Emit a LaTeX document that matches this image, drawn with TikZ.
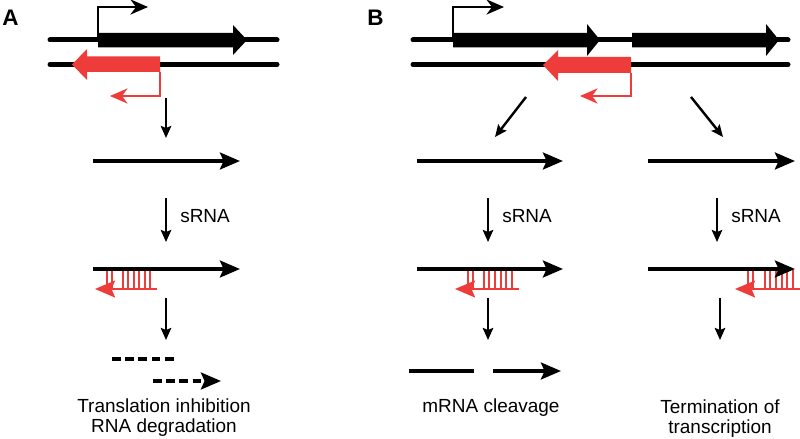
\documentclass[tikz,border=0pt]{standalone}
\usepackage{fontspec}
\setmainfont{Liberation Sans}
\usetikzlibrary{arrows.meta}
\definecolor{AntiRed}{RGB}{238,60,58}
\tikzset{
  dna/.style={line width=0.125cm,line cap=round},
  gene/.style={fill=black},
  asgene/.style={fill=AntiRed},
  tss/.style={line width=0.05cm,-{Stealth[length=0.44cm,width=0.38cm,inset=0.14cm]}},
  rna/.style={line width=0.095cm,-{Stealth[length=0.5cm,width=0.42cm,inset=0.09cm]}},
  srna/.style={rna,AntiRed,line width=0.07cm},
  pair/.style={AntiRed,line width=0.03cm},
  flow/.style={line width=0.06cm,-{Stealth[length=0.3cm,width=0.26cm,inset=0.05cm]}},
  cut/.style={line width=0.095cm},
  txt/.style={font=\fontsize{13.5}{14.2}\selectfont,inner sep=0pt,align=center},
  panel/.style={font=\fontsize{16}{16}\selectfont\bfseries,inner sep=0pt}
}

\begin{document}
\begin{tikzpicture}[x=0.025cm,y=-0.025cm]
  \useasboundingbox (0,0) rectangle (800,439);

  % panel A
  \node[panel,anchor=base west] (labA) at (2,26) {A};
  \draw[dna] (50,40) -- (277,40);
  \draw[dna] (50,64.5) -- (277,64.5);
  \fill[gene] (98,33) -- (233,33) -- (233,25) -- (247,40) -- (233,55)
    -- (233,47.5) -- (98,47.5) -- cycle;
  \draw[tss] (98,40) -- (98,7) -- (148,7);
  \fill[asgene] (160,56.5) -- (87,56.5) -- (87,49) -- (72,64.5) -- (87,80)
    -- (87,72) -- (160,72) -- cycle;
  \draw[tss,AntiRed] (159.5,72) -- (159.5,96) -- (110,96);

  \draw[flow] (166,98) -- (166,138);
  \draw[rna] (93,161) -- (240,161);
  \draw[flow] (166,198) -- (166,242);
  \node[txt,anchor=base west] (sA) at (180,222) {sRNA};
  \foreach \x in {107,112,123,128,134,139,145,150}
    \draw[pair] (\x,270) -- (\x,289);
  \draw[rna] (93,269) -- (240,269);
  \draw[srna] (157,289) -- (95,289);
  \draw[flow] (166,298) -- (166,340);
  \draw[cut,dash pattern=on 0.22cm off 0.11cm] (112,359) -- (175,359);
  \draw[rna,dash pattern=on 0.22cm off 0.11cm] (153,381) -- (221,381);
  \node[txt,anchor=base] (resA) at (164,432)
    {Translation inhibition\\RNA degradation};

  % panel B
  \node[panel,anchor=base west] (labB) at (367,26) {B};
  \draw[dna] (413,40) -- (788,40);
  \draw[dna] (413,64.5) -- (788,64.5);
  \fill[gene] (453,33) -- (587,33) -- (587,24) -- (600,40) -- (587,56)
    -- (587,47.5) -- (453,47.5) -- cycle;
  \fill[gene] (632,33) -- (766,33) -- (766,24) -- (779,40) -- (766,56)
    -- (766,47.5) -- (632,47.5) -- cycle;
  \draw[tss] (453,40) -- (453,7) -- (504,7);
  \fill[asgene] (631,57) -- (558,57) -- (558,50) -- (543,65) -- (558,81)
    -- (558,73) -- (631,73) -- cycle;
  \draw[tss,AntiRed] (631,73) -- (631,96) -- (580,96);

  \draw[flow] (526,97) -- (495,137);
  \draw[flow] (691,97) -- (723,137);
  \draw[rna] (417,161) -- (563,161);
  \draw[rna] (648,161) -- (795,161);
  \draw[flow] (488,198) -- (488,242);
  \draw[flow] (717,198) -- (717,242);
  \node[txt,anchor=base west] (sB1) at (502,222) {sRNA};
  \node[txt,anchor=base west] (sB2) at (731,222) {sRNA};

  \foreach \x in {468,473,484,489,495,501,506,512}
    \draw[pair] (\x,270) -- (\x,289);
  \draw[rna] (417,269) -- (563,269);
  \draw[srna] (519,289) -- (455,289);
  \foreach \x in {748,753,765,770,776,782,787,793}
    \draw[pair] (\x,270) -- (\x,289);
  \draw[srna] (804,289) -- (735,289);
  \draw[rna] (648,269) -- (795,269);

  \draw[flow] (488,298) -- (488,340);
  \draw[flow] (720,298) -- (720,340);
  \draw[cut] (409,371) -- (474,371);
  \draw[rna] (493,371) -- (561,371);
  \node[txt,anchor=base] (resB1) at (491,412) {mRNA cleavage};
  \node[txt,anchor=base] (resB2) at (720,433)
    {Termination of\\transcription};
\end{tikzpicture}
\end{document}
